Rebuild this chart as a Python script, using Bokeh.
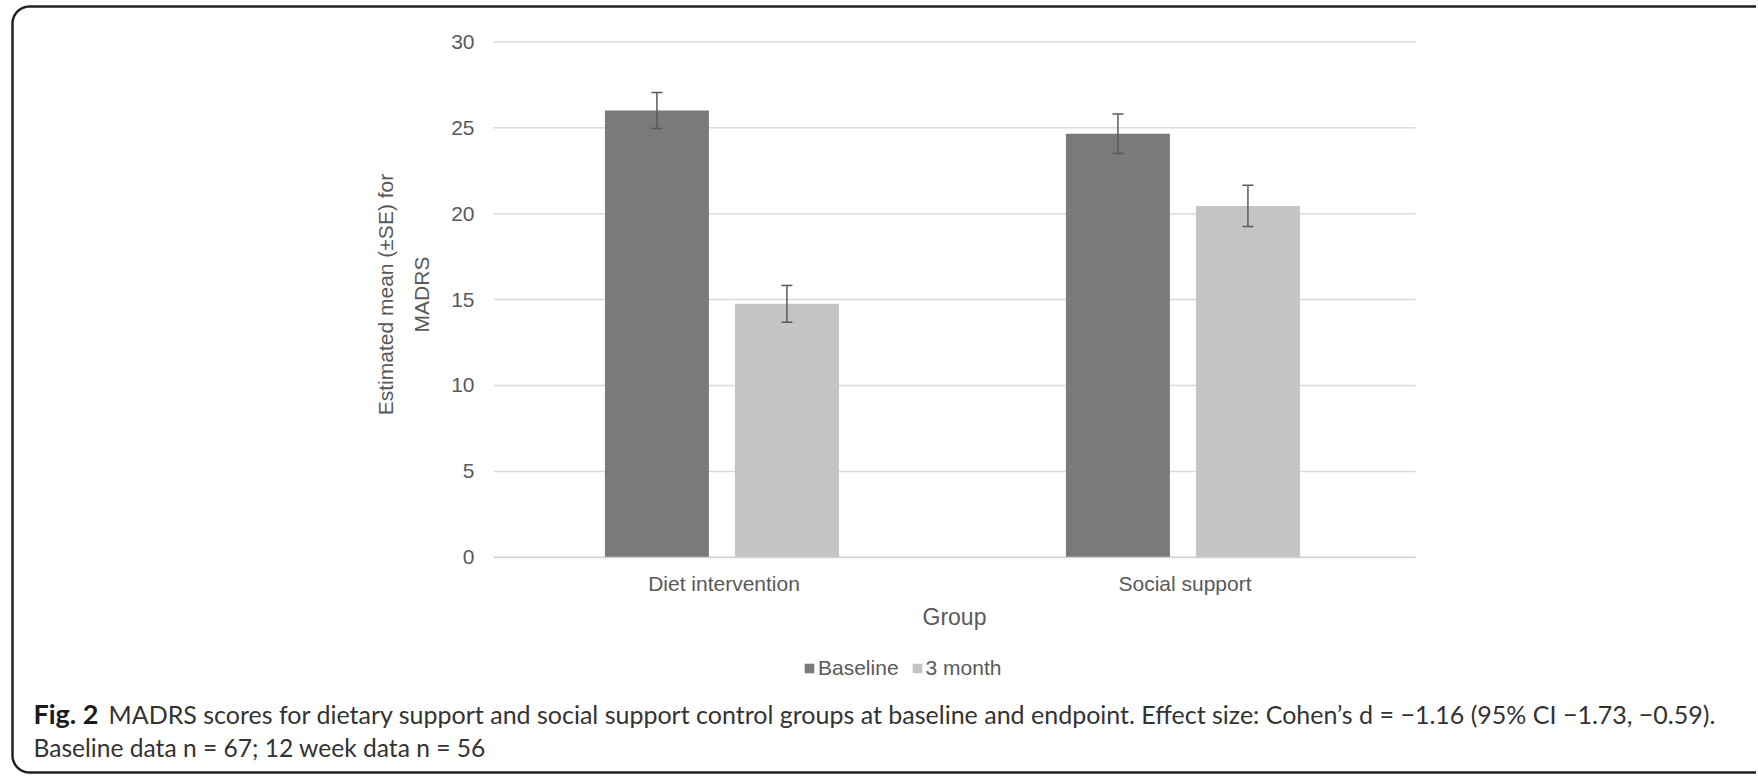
import numpy as np
from bokeh.plotting import figure
from bokeh.models import (Range1d, FixedTicker, Whisker, ColumnDataSource, LinearAxis,
                          Legend, LegendItem, Label, PolyAnnotation, TeeHead)
from bokeh.transform import dodge
from bokeh.embed import file_html
from bokeh.resources import INLINE

# ---- data ----
groups = ["Diet intervention", "Social support"]
baseline = [26.0, 24.65]
baseline_se = [1.05, 1.15]
month3 = [14.75, 20.45]
month3_se = [1.07, 1.2]
y_ticks = [0, 5, 10, 15, 20, 25, 30]
series_labels = ["Baseline", "3 month"]
y_title = "Estimated mean (\u00b1SE) for\nMADRS"
x_title = "Group"
caption_bold = "Fig. 2"
caption_line1 = ("MADRS scores for dietary support and social support control groups at baseline and endpoint. "
                 "Effect size: Cohen\u2019s d = \u22121.16 (95% CI \u22121.73, \u22120.59).")
caption_line2 = "Baseline data n = 67; 12 week data n = 56"

centers = [i + 0.5 for i in range(len(groups))]
source = ColumnDataSource(dict(
    xc=centers,
    baseline=baseline,
    month3=month3,
    b_hi=[v + e for v, e in zip(baseline, baseline_se)],
    b_lo=[v - e for v, e in zip(baseline, baseline_se)],
    m_hi=[v + e for v, e in zip(month3, month3_se)],
    m_lo=[v - e for v, e in zip(month3, month3_se)],
))

# ---- layout (pixels, page coordinates from top-left) ----
W, H = 1756, 775
PL, PR = 493.0, 1415.0          # plot area left/right
PT, PB = 41.3, 556.8            # y=30 and y=0 positions
ymax = y_ticks[-1]
ppu_y = (PB - PT) / ymax
ppu_x = (PR - PL) / len(groups)
x_range = Range1d(-PL / ppu_x, len(groups) + (W - PR) / ppu_x)
y_range = Range1d(-(H - PB) / ppu_y, ymax + PT / ppu_y)

FONT = "Liberation Sans"
TXT = "#595959"

p = figure(width=W, height=H, x_range=x_range, y_range=y_range,
           output_backend="svg", toolbar_location=None, min_border=0,
           x_axis_location=None, y_axis_location=None)
p.grid.visible = False
p.outline_line_color = None

# horizontal gridlines across the plot area
p.segment(x0=0, x1=len(groups), y0=y_ticks, y1=y_ticks, line_color="#dadada", line_width=1.5)

off_b, off_m, bw = -0.1455, 0.1365, 0.2256
r1 = p.vbar(x=dodge("xc", off_b), top="baseline", width=bw, source=source,
            fill_color="#7a7a7a", line_color=None)
r2 = p.vbar(x=dodge("xc", off_m), top="month3", width=bw, source=source,
            fill_color="#c4c4c4", line_color=None)

for off, hi, lo in [(off_b, "b_hi", "b_lo"), (off_m, "m_hi", "m_lo")]:
    w = Whisker(base=dodge("xc", off), upper=hi, lower=lo, source=source,
                line_color="#5a5a5a", line_width=1.5, level="overlay",
                upper_head=TeeHead(size=11, line_color="#5a5a5a", line_width=1.5),
                lower_head=TeeHead(size=11, line_color="#5a5a5a", line_width=1.5))
    p.add_layout(w)

yaxis = LinearAxis(fixed_location=0, bounds=(0, ymax + 0.6), ticker=FixedTicker(ticks=y_ticks),
                   axis_line_color=None, major_tick_line_color=None, minor_tick_line_color=None,
                   major_tick_out=0, major_label_standoff=19,
                   major_label_text_font=FONT, major_label_text_font_size="21px",
                   major_label_text_color=TXT,
                   axis_label=y_title, axis_label_text_font=FONT, axis_label_text_font_size="21px",
                   axis_label_text_font_style="normal", axis_label_text_color=TXT,
                   axis_label_text_line_height=1.55, axis_label_standoff=15)
p.add_layout(yaxis, "left")

xaxis = LinearAxis(fixed_location=0, bounds=(0, len(groups)), ticker=FixedTicker(ticks=centers),
                   major_label_overrides={c: g for c, g in zip(centers, groups)},
                   axis_line_color="#d4d4d4", axis_line_width=1.5,
                   major_tick_line_color=None, minor_tick_line_color=None,
                   major_tick_out=0, major_label_standoff=15,
                   major_label_text_font=FONT, major_label_text_font_size="21px",
                   major_label_text_color=TXT,
                   axis_label=x_title, axis_label_text_font=FONT, axis_label_text_font_size="23px",
                   axis_label_text_font_style="normal", axis_label_text_color=TXT,
                   axis_label_standoff=5)
p.add_layout(xaxis, "below")

legend = Legend(items=[LegendItem(label=series_labels[0], renderers=[r1]),
                       LegendItem(label=series_labels[1], renderers=[r2])],
                orientation="horizontal", location=(803, H - 680),
                glyph_width=12, glyph_height=12, label_standoff=3, spacing=12,
                padding=0, margin=0, border_line_color=None, background_fill_alpha=0,
                label_text_font=FONT, label_text_font_size="21px", label_text_color=TXT)
p.add_layout(legend)

# caption
CAP = "Lato"
p.add_layout(Label(x=33, y=H - 713, x_units="screen", y_units="screen", text=caption_bold,
                   text_font=CAP, text_font_style="bold", text_font_size="27px",
                   text_color="#1a1a1a", text_baseline="middle"))
p.add_layout(Label(x=108, y=H - 713, x_units="screen", y_units="screen", text=caption_line1,
                   text_font=CAP, text_font_size="25px", text_color="#333333",
                   text_baseline="middle"))
p.add_layout(Label(x=33, y=H - 747, x_units="screen", y_units="screen", text=caption_line2,
                   text_font=CAP, text_font_size="24.6px", text_color="#333333",
                   text_baseline="middle"))

# rounded frame border (open on the right, continuing past the page edge)
left, top, bottom, right, rad = 12, 6, 772, W + 30, 17
ta = np.linspace(np.pi / 2, np.pi, 14)
tb = np.linspace(np.pi, 1.5 * np.pi, 14)
bx = [right] + list(left + rad + rad * np.cos(ta)) + list(left + rad + rad * np.cos(tb)) + [right]
by = [top] + list(top + rad - rad * np.sin(ta)) + list(bottom - rad - rad * np.sin(tb)) + [bottom]
p.add_layout(PolyAnnotation(xs=bx, ys=[H - y for y in by], xs_units="screen", ys_units="screen",
                            fill_alpha=0, line_color="#222222", line_alpha=1.0, line_width=2.5,
                            level="overlay"))

open("out.html", "w").write(file_html(p, INLINE))
